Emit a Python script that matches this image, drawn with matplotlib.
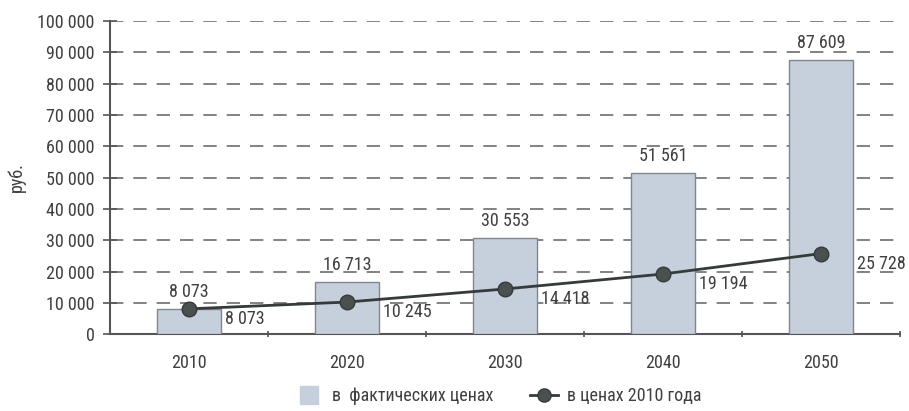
import matplotlib
matplotlib.use("Agg")
import matplotlib.pyplot as plt
from matplotlib.lines import Line2D
from matplotlib import font_manager

years = ["2010", "2020", "2030", "2040", "2050"]
actual_prices = [8073, 16713, 30553, 51561, 87609]
prices_2010 = [8073, 10245, 14418, 19194, 25728]
y_ticks = [0, 10000, 20000, 30000, 40000, 50000, 60000, 70000, 80000, 90000, 100000]
legend_labels = ["в  фактических ценах", "в ценах 2010 года"]
y_label = "руб."

names = {f.name for f in font_manager.fontManager.ttflist}
fam = "Roboto Condensed" if "Roboto Condensed" in names else "Liberation Sans"
plt.rcParams["font.family"] = [fam, "DejaVu Sans"]
fs = 13 if fam == "Roboto Condensed" else 12

def fmt(v):
    return f"{v:,}".replace(",", " ")

txt = "#3f3f3f"
bar_color = "#c6d0dc"
fig = plt.figure(figsize=(9.09, 4.11), dpi=100)
ax = fig.add_axes([0.121, 0.187, 0.869, 0.762])

x = list(range(len(years)))
ax.bar(x, actual_prices, width=0.4, color=bar_color, edgecolor="#80868c", linewidth=1.0, zorder=3)
ax.plot(x, prices_2010, color="#353a3a", linewidth=2.0, marker="o", markersize=10.5,
        markerfacecolor="#4a504f", markeredgecolor="#353a3a", zorder=5)

for xi, v in zip(x, actual_prices):
    ax.annotate(fmt(v), (xi, v), xytext=(0, 8), textcoords="offset pixels",
                ha="center", va="bottom", fontsize=fs, color=txt, zorder=6)
for xi, v in zip(x, prices_2010):
    ax.annotate(fmt(v), (xi, v), xytext=(36, -10), textcoords="offset pixels",
                ha="left", va="center", fontsize=fs, color=txt, zorder=6)

ax.set_xlim(-0.5, 4.5)
ax.set_ylim(0, 100000)
ax.set_yticks(y_ticks)
ax.set_yticklabels([fmt(v) for v in y_ticks], fontsize=fs, color=txt)
ax.set_xticks(x)
ax.set_xticklabels(years, fontsize=fs, color=txt)
ax.set_xticks([0.5, 1.5, 2.5, 3.5, 4.5], minor=True)
ax.tick_params(axis="x", which="major", length=0, pad=14)
ax.tick_params(axis="x", which="minor", length=5, direction="inout", color="#555555", width=1.2)
ax.tick_params(axis="y", length=10, direction="inout", color="#555555", width=1.2, pad=6)

for yv in y_ticks[1:]:
    ax.axhline(yv, color="#6a6e72", linewidth=1.2, linestyle=(0, (8, 6)), zorder=1)

for s in ["top", "right"]:
    ax.spines[s].set_visible(False)
for s in ["left", "bottom"]:
    ax.spines[s].set_color("#555555")
    ax.spines[s].set_linewidth(1.5)

ax.set_ylabel(y_label, fontsize=fs, color=txt, labelpad=8)

handles = [Line2D([0], [0], linestyle="none", marker="s", markersize=12.5,
                  markerfacecolor=bar_color, markeredgecolor=bar_color),
           Line2D([0], [0], color="#353a3a", linewidth=2, marker="o", markersize=9.5,
                  markerfacecolor="#4a504f", markeredgecolor="#353a3a")]
fig.legend(handles, legend_labels, loc="center", bbox_to_anchor=(0.548, 0.036), ncol=2,
           frameon=False, fontsize=fs, labelcolor=txt, columnspacing=2.0, handlelength=1.55,
           handletextpad=0.5)

fig.savefig("out.png", dpi=100, facecolor="white")
